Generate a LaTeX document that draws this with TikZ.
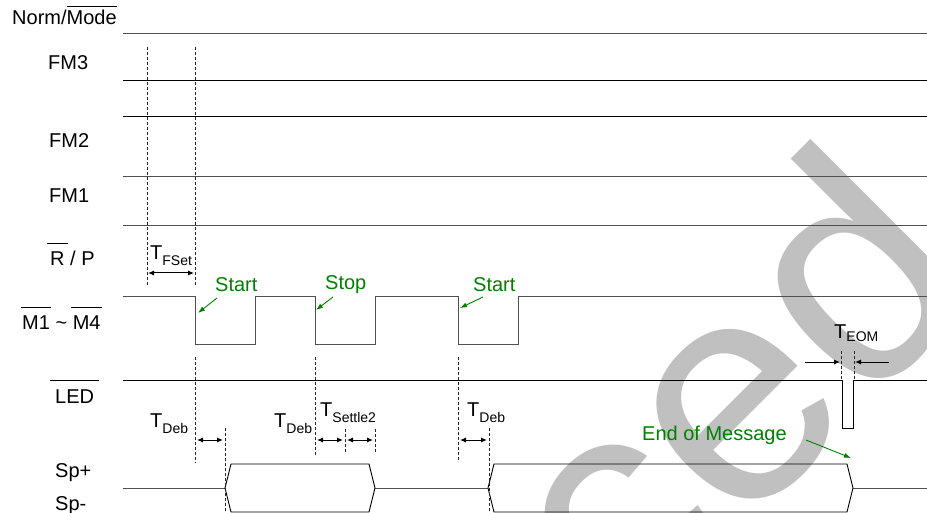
\documentclass[tikz,border=0pt]{standalone}
\usepackage{fontspec}
\setmainfont{Liberation Sans}
\usetikzlibrary{arrows.meta}
\definecolor{sigg}{RGB}{80,80,80}
\definecolor{grn}{RGB}{0,128,0}
\definecolor{wm}{RGB}{192,192,192}
% overline: #1 raise, #2 extension each side, #3 text
\newcommand\ovl[3]{\setbox0\hbox{#3}\rlap{\kern-#2\raisebox{#1}{\rule{\dimexpr\wd0+#2+#2\relax}{0.9pt}}}\box0\relax}
\newcommand\Tsub[1]{T\raisebox{-6pt}{\fontsize{14}{14}\selectfont #1}}
\tikzset{
  lbl/.style={font=\fontsize{20}{24}\selectfont, inner sep=0pt, anchor=base west},
  gtxt/.style={text=grn, font=\fontsize{20}{24}\selectfont, inner sep=0pt, anchor=base west},
  sigline/.style={line width=1pt, draw=sigg},
  blk/.style={line width=1pt, draw=black},
  dsh/.style={line width=0.8pt, dash pattern=on 3pt off 2pt, draw=black!85},
  dimarr/.style={line width=1pt, {Latex[length=6pt,width=5pt]}-{Latex[length=6pt,width=5pt]}},
  onearr/.style={line width=1pt, -{Latex[length=6pt,width=5pt]}},
  garr/.style={draw=grn, line width=0.9pt, -{Latex[length=7pt,width=5pt]}},
}
\begin{document}
\begin{tikzpicture}[x=1pt,y=-1pt]
\useasboundingbox (0,0) rectangle (927,513);
\clip (0,0) rectangle (927,513);
\fill[white] (0,0) rectangle (927,513);
% watermark
\node[rotate=45, anchor=base west, inner sep=0pt, text=wm, font=\fontsize{316}{316}\selectfont] (wmk) at (627,647) {ced};

% signal labels
\node[lbl] (lnm) at (12,25) {Norm/\ovl{18pt}{0pt}{Mode}};
\node[lbl] (lfm3) at (48,70) {FM3};
\node[lbl] (lfm2) at (49,148) {FM2};
\node[lbl] (lfm1) at (49,203) {FM1};
\node[lbl] (lrp) at (50,266) {\ovl{22pt}{3pt}{R} / P};
\node[lbl] (lm) at (22,330) {\ovl{22pt}{1.5pt}{M1} \textasciitilde{} \ovl{22pt}{1.5pt}{M4}};
\node[lbl] (lled) at (55,403) {\ovl{22pt}{5pt}{LED}};
\node[lbl] (lspp) at (55,477) {Sp+};
\node[lbl] (lspm) at (55,510) {Sp-};

% static lines
\draw[sigline] (123,34) -- (927,34);
\draw[blk] (123,81) -- (927,81);
\draw[blk] (123,117) -- (927,117);
\draw[sigline] (123,177) -- (927,177);
\draw[sigline] (123,226) -- (927,226);

% M1~M4 waveform
\draw[sigline] (123,297) -- (195,297) -- (195,344) -- (255,344) -- (255,297) -- (315,297) -- (315,344)
  -- (375,344) -- (375,297) -- (458,297) -- (458,344) -- (518,344) -- (518,297) -- (927,297);

% LED waveform
\draw[blk] (123,380) -- (842,380) -- (842,428) -- (853,428) -- (853,380) -- (927,380);

% Sp bus
\draw[sigline] (123,488) -- (225,488);
\draw[sigline] (375,488) -- (488,488);
\draw[sigline] (853,488) -- (927,488);
\draw[blk, line width=0.9pt] (225,488) -- (231,464) -- (369,464) -- (375,488) -- (369,512) -- (231,512) -- cycle;
\draw[blk, line width=0.9pt] (488,488) -- (494,464) -- (847,464) -- (853,488) -- (847,512) -- (494,512) -- cycle;

% dashed guide lines
\draw[dsh] (147,47) -- (147,285);
\draw[dsh] (195,47) -- (195,285);
\draw[dsh] (195,357) -- (195,463);
\draw[dsh] (225,428) -- (225,512);
\draw[dsh] (315,357) -- (315,456);
\draw[dsh] (345,429) -- (345,452);
\draw[dsh] (375,429) -- (375,452);
\draw[dsh] (458,357) -- (458,462);
\draw[dsh] (489,428) -- (489,512);
\draw[dsh] (841,351) -- (841,380);
\draw[dsh] (854,351) -- (854,380);

% dimension arrows
\coordinate (f1) at (148,273); \coordinate (f2) at (194,273);
\draw[dimarr] (f1) -- (f2);
\coordinate (d1a) at (197,440); \coordinate (d1b) at (223,440);
\draw[dimarr] (d1a) -- (d1b);
\coordinate (s1a) at (317,440); \coordinate (s1b) at (343,440);
\draw[dimarr] (s1a) -- (s1b);
\coordinate (s2a) at (347,440); \coordinate (s2b) at (373,440);
\draw[dimarr] (s2a) -- (s2b);
\coordinate (d3a) at (460,440); \coordinate (d3b) at (487,440);
\draw[dimarr] (d3a) -- (d3b);
\coordinate (e1a) at (805,362); \coordinate (e1b) at (840,362);
\draw[onearr] (e1a) -- (e1b);
\coordinate (e2a) at (889,362); \coordinate (e2b) at (855,362);
\draw[onearr] (e2a) -- (e2b);

% timing labels
\node[lbl] (tfset) at (150,260) {\Tsub{FSet}};
\node[lbl] (tdeb1) at (150,427) {\Tsub{Deb}};
\node[lbl] (tdeb2) at (274,427) {\Tsub{Deb}};
\node[lbl] (tset) at (320,416) {\Tsub{Settle2}};
\node[lbl] (tdeb3) at (467,416) {\Tsub{Deb}};
\node[lbl] (teom) at (834,338) {T\raisebox{-3pt}{\fontsize{14}{14}\selectfont EOM}};

% green annotations
\node[gtxt] (st1) at (215,291) {Start};
\node[gtxt] (stp) at (325,290) {Stop};
\node[gtxt] (st2) at (473,291) {Start};
\node[gtxt] (eom) at (642,440) {End of Message};
\coordinate (a1s) at (217,298); \coordinate (a1e) at (198,313);
\draw[garr] (a1s) -- (a1e);
\coordinate (a2s) at (333,297); \coordinate (a2e) at (316,310);
\draw[garr] (a2s) -- (a2e);
\coordinate (a3s) at (483,297); \coordinate (a3e) at (460,308);
\draw[garr] (a3s) -- (a3e);
\coordinate (a4s) at (806,440); \coordinate (a4e) at (851,458);
\draw[garr] (a4s) -- (a4e);
\end{tikzpicture}
\end{document}
